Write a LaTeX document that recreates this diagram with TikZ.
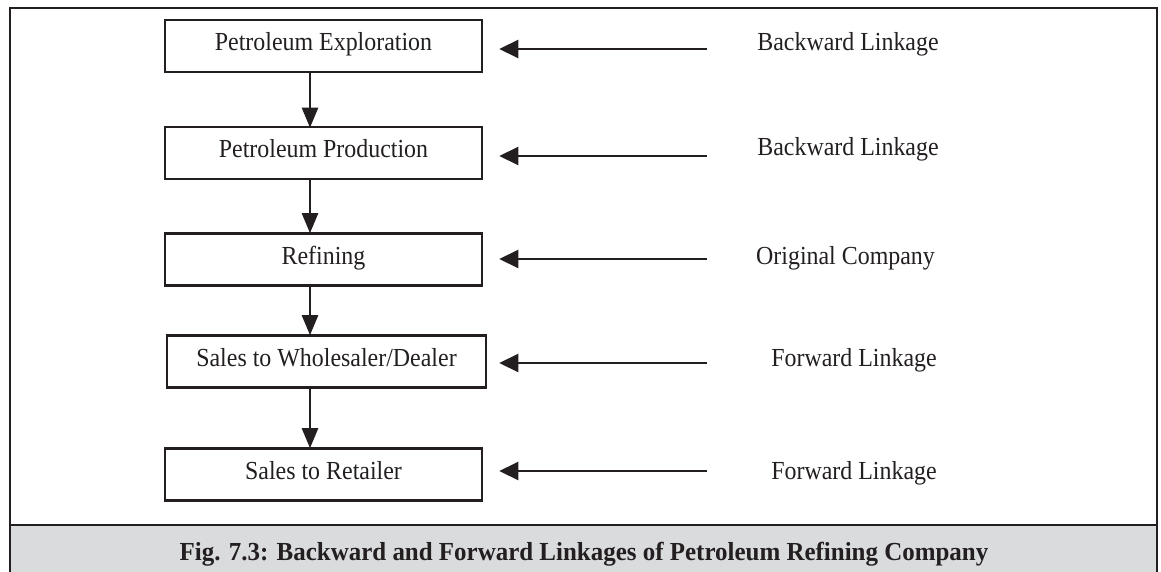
\documentclass[tikz,border=0pt]{standalone}
\usepackage{fontspec}
\setmainfont[FakeStretch=0.92]{Liberation Serif}
\newfontfamily\capfont[FakeStretch=0.96]{Liberation Serif}
\usetikzlibrary{arrows.meta}
\definecolor{ink}{HTML}{231F20}
\definecolor{bar}{HTML}{DADBDD}
\begin{document}
\begin{tikzpicture}[x=1pt,y=-1pt,
  stage/.style={draw=ink,line width=2.6pt,rectangle,minimum width=317pt,minimum height=52pt,
    inner sep=0pt,text height=17pt,text depth=7pt,font=\fontsize{26}{30}\selectfont,text=ink},
  tag/.style={anchor=base,inner sep=0pt,font=\fontsize{26}{30}\selectfont,text=ink},
  flow/.style={draw=ink,line width=2.6pt,-{Triangle[length=20pt,width=16pt]}},
  link/.style={draw=ink,line width=2.6pt,-{Triangle[length=19pt,width=18pt]},shorten >=16pt}]
  \clip (0,0) rectangle (1161,572);
  % frame and caption bar
  \fill[white] (0,0) rectangle (1161,572);
  \fill[bar] (10,525) rectangle (1157,580);
  \draw[ink,line width=2.6pt] (10,8) rectangle (1157,590);
  \draw[ink,line width=2.6pt] (10,525) -- (1157,525);
  \node[anchor=base,inner sep=0pt,font=\capfont\fontsize{26}{30}\selectfont\bfseries,text=ink] (cap) at (584,560)
    {Fig. 7.3: Backward and Forward Linkages of Petroleum Refining Company};
  % stages of the chain
  \node[stage] (b1) at (323.5,46) {Petroleum Exploration};
  \node[stage] (b2) at (323.5,153) {Petroleum Production};
  \node[stage] (b3) at (323.5,259.5) {Refining};
  \node[stage,minimum width=319pt] (b4) at (326.5,361.5) {Sales to Wholesaler/Dealer};
  \node[stage] (b5) at (323.5,474.5) {Sales to Retailer};
  % downward flow
  \coordinate (ax) at (310,0);
  \draw[flow] (b1.south -| ax) -- ([yshift=-2pt]b2.north -| ax);
  \draw[flow] (b2.south -| ax) -- ([yshift=-1pt]b3.north -| ax);
  \draw[flow] ([yshift=2pt]b3.south -| ax) -- ([yshift=-1pt]b4.north -| ax);
  \draw[flow] (b4.south -| ax) -- ([yshift=-1pt]b5.north -| ax);
  % linkage labels
  \node[tag] (l1) at (848,51) {Backward Linkage};
  \node[tag] (l2) at (848,156) {Backward Linkage};
  \node[tag] (l3) at (845.5,264) {Original Company};
  \node[tag] (l4) at (854,366) {Forward Linkage};
  \node[tag] (l5) at (854,479) {Forward Linkage};
  % arrows pointing back to the stages
  \coordinate (t1) at (707,49);
  \coordinate (t2) at (707,156);
  \coordinate (t3) at (707,259);
  \coordinate (t4) at (707,363);
  \coordinate (t5) at (707,471);
  \draw[link] (t1) -- (t1 -| b1.east);
  \draw[link] (t2) -- (t2 -| b2.east);
  \draw[link] (t3) -- (t3 -| b3.east);
  \draw[link] (t4) -- ([xshift=-4pt]t4 -| b4.east);
  \draw[link] (t5) -- (t5 -| b5.east);
\end{tikzpicture}
\end{document}
